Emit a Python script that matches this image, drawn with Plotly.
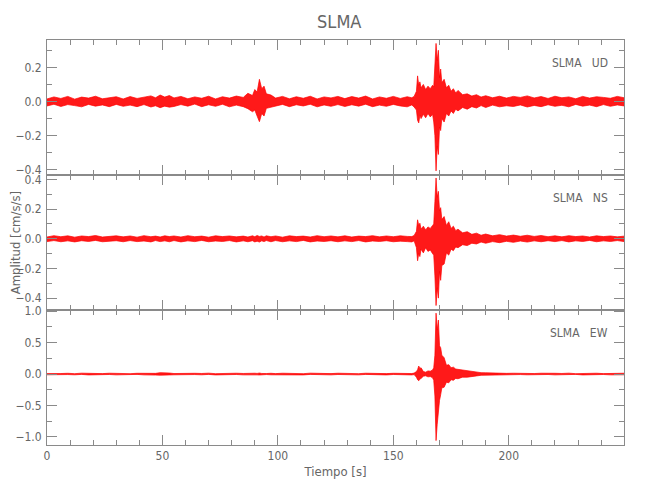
import plotly.graph_objects as go
from plotly.subplots import make_subplots

# Time grid (s)
T = [0, 3, 6, 9, 12, 15, 18, 21, 24, 27,
     30, 33, 36, 39, 42, 45, 47, 49, 51, 53,
     55, 58, 61, 64, 67, 70, 73, 76, 79, 82,
     85, 87, 89, 90, 91, 92, 93, 94, 95, 97,
     99, 102, 105, 108, 111, 114, 117, 120, 123, 126,
     129, 132, 135, 138, 141, 144, 147, 150, 153, 156,
     158, 159, 160, 160.5, 161, 161.5, 162, 163, 164, 165,
     166, 167, 167.5, 168, 168.5, 169, 169.5, 170, 170.5, 171,
     172, 173, 174, 175, 176, 177, 178, 180, 182, 184,
     186, 188, 190, 193, 196, 199, 202, 205, 208, 211,
     214, 217, 220, 223, 226, 229, 232, 235, 238, 241,
     244, 247, 250]

# Envelope (upper / lower) of each component, cm/s/s
UD_UP = [.015, .027, .018, .030, .014, .026, .020, .031, .016, .024,
         .028, .015, .029, .018, .025, .033, .022, .038, .026, .035,
         .021, .030, .016, .027, .019, .031, .015, .028, .020, .032,
         .024, .048, .035, .070, .055, .130, .075, .090, .045, .038,
         .020, .030, .016, .028, .019, .031, .015, .027, .021, .030,
         .017, .029, .020, .032, .015, .027, .019, .030, .018, .028,
         .022, .030, .060, .150, .095, .115, .080, .100, .070, .090,
         .075, .095, .085, .200, .340, .240, .300, .140, .190, .110,
         .130, .080, .095, .060, .075, .050, .065, .040, .045, .032,
         .040, .026, .034, .022, .031, .020, .030, .024, .033, .021,
         .029, .018, .031, .022, .027, .016, .030, .020, .028, .024,
         .019, .030, .022]
UD_LO = [-.026, -.016, -.029, -.018, -.024, -.031, -.017, -.027, -.020, -.030,
         -.017, -.028, -.021, -.030, -.018, -.032, -.025, -.036, -.027, -.033,
         -.029, -.018, -.027, -.015, -.030, -.019, -.028, -.016, -.031, -.021,
         -.030, -.042, -.060, -.050, -.085, -.118, -.070, -.085, -.040, -.033,
         -.027, -.017, -.030, -.019, -.026, -.016, -.031, -.020, -.028, -.018,
         -.029, -.019, -.027, -.016, -.030, -.021, -.028, -.017, -.026, -.031,
         -.020, -.032, -.050, -.110, -.125, -.080, -.100, -.075, -.095, -.070,
         -.090, -.075, -.120, -.200, -.406, -.260, -.310, -.150, -.170, -.100,
         -.120, -.070, -.085, -.055, -.070, -.045, -.055, -.035, -.045, -.030,
         -.038, -.024, -.035, -.021, -.031, -.025, -.029, -.020, -.032, -.023,
         -.030, -.019, -.028, -.022, -.031, -.017, -.027, -.021, -.030, -.018,
         -.028, -.020, -.026]

NS_UP = [.012, .021, .014, .020, .011, .019, .015, .022, .012, .018,
         .020, .013, .019, .011, .021, .014, .018, .012, .020, .015,
         .019, .012, .021, .014, .018, .011, .020, .015, .019, .013,
         .018, .012, .020, .014, .022, .016, .019, .012, .020, .014,
         .019, .011, .020, .015, .018, .012, .021, .014, .019, .013,
         .020, .012, .018, .015, .021, .013, .019, .014, .020, .016,
         .015, .022, .050, .128, .090, .105, .065, .085, .060, .080,
         .070, .090, .100, .250, .410, .280, .320, .190, .210, .130,
         .150, .090, .115, .070, .085, .055, .065, .040, .048, .030,
         .038, .024, .032, .020, .028, .018, .025, .017, .024, .016,
         .022, .014, .020, .013, .021, .015, .019, .012, .020, .015,
         .019, .013, .018]
NS_LO = [-.019, -.012, -.020, -.014, -.021, -.013, -.018, -.011, -.020, -.015,
         -.013, -.020, -.012, -.019, -.015, -.021, -.012, -.019, -.014, -.020,
         -.012, -.021, -.014, -.019, -.011, -.020, -.015, -.018, -.012, -.021,
         -.014, -.020, -.013, -.021, -.016, -.022, -.014, -.019, -.012, -.020,
         -.012, -.020, -.014, -.019, -.011, -.021, -.015, -.018, -.013, -.020,
         -.014, -.019, -.012, -.021, -.015, -.018, -.013, -.020, -.016, -.019,
         -.021, -.014, -.060, -.148, -.100, -.120, -.070, -.095, -.060, -.085,
         -.075, -.100, -.110, -.250, -.450, -.330, -.400, -.220, -.280, -.180,
         -.170, -.095, -.110, -.070, -.080, -.055, -.060, -.040, -.046, -.030,
         -.035, -.022, -.030, -.019, -.026, -.017, -.024, -.015, -.022, -.014,
         -.020, -.013, -.019, -.012, -.021, -.014, -.018, -.011, -.020, -.014,
         -.018, -.012, -.019]

EW_UP = [.007, .013, .008, .012, .006, .014, .009, .012, .007, .013,
         .008, .013, .006, .012, .009, .014, .011, .022, .013, .016,
         .008, .013, .007, .012, .009, .014, .006, .012, .008, .013,
         .009, .014, .008, .013, .010, .016, .009, .014, .008, .012,
         .007, .013, .009, .012, .006, .014, .008, .012, .007, .013,
         .009, .012, .006, .013, .008, .014, .007, .012, .009, .013,
         .008, .015, .040, .070, .127, .090, .100, .040, .030, .050,
         .045, .065, .100, .300, .970, .700, .860, .450, .420, .300,
         .260, .140, .150, .100, .110, .080, .075, .055, .052, .040,
         .032, .022, .020, .014, .016, .011, .013, .009, .012, .008,
         .013, .007, .012, .009, .014, .006, .012, .008, .013, .007,
         .012, .009, .013]
EW_LO = [-.012, -.007, -.013, -.008, -.012, -.006, -.014, -.008, -.012, -.007,
         -.013, -.008, -.012, -.006, -.013, -.009, -.016, -.018, -.012, -.014,
         -.012, -.007, -.013, -.008, -.012, -.006, -.014, -.009, -.012, -.007,
         -.013, -.009, -.014, -.010, -.013, -.015, -.010, -.013, -.008, -.012,
         -.013, -.007, -.012, -.008, -.014, -.006, -.012, -.009, -.013, -.007,
         -.012, -.008, -.013, -.006, -.012, -.009, -.014, -.007, -.013, -.008,
         -.014, -.009, -.050, -.090, -.107, -.080, -.070, -.035, -.028, -.045,
         -.040, -.060, -.100, -.350, -1.06, -.800, -.600, -.420, -.330, -.220,
         -.210, -.130, -.140, -.090, -.100, -.070, -.075, -.050, -.050, -.035,
         -.030, -.020, -.018, -.012, -.015, -.010, -.013, -.008, -.012, -.009,
         -.012, -.007, -.013, -.008, -.012, -.006, -.014, -.008, -.012, -.007,
         -.013, -.008, -.012]

CHANNELS = ["UD", "NS", "EW"]
STATION = "SLMA"
Y_RANGES = [[-0.43, 0.36], [-0.48, 0.43], [-1.13, 1.02]]
Y_DTICK = [0.2, 0.2, 0.5]
X_RANGE = [0, 249.9]

series = [(UD_UP, UD_LO), (NS_UP, NS_LO), (EW_UP, EW_LO)]
for up, lo in series:
    assert len(up) == len(T) and len(lo) == len(T)

FONT = "DejaVu Sans Condensed, Liberation Sans Narrow, sans-serif"
GRAY = "#666666"
AXC = "#8a8a8a"
RED = "#ff0000"

fig = make_subplots(rows=3, cols=1, shared_xaxes=True, vertical_spacing=0)

for i, (up, lo) in enumerate(series):
    r = i + 1
    fig.add_trace(go.Scatter(x=T, y=lo, mode="lines",
                             line=dict(color=RED, width=0.7),
                             hoverinfo="skip", showlegend=False), row=r, col=1)
    fig.add_trace(go.Scatter(x=T, y=up, mode="lines", fill="tonexty",
                             fillcolor="rgba(255,0,0,0.9)",
                             line=dict(color=RED, width=0.7),
                             hoverinfo="skip", showlegend=False), row=r, col=1)

domains = [[2 / 3, 1.0], [1 / 3, 2 / 3], [0.0, 1 / 3]]
for i in range(3):
    r = i + 1
    fig.update_yaxes(row=r, col=1, range=Y_RANGES[i], domain=domains[i],
                     dtick=Y_DTICK[i], tick0=0, tickformat=".1f",
                     ticks="inside", ticklen=10, tickcolor=AXC, tickwidth=1,
                     minor=dict(ticks="inside", ticklen=5, dtick=Y_DTICK[i] / 2,
                                tickcolor=AXC, tickwidth=1),
                     showline=True, linecolor=AXC, linewidth=1, mirror="ticks",
                     showgrid=False, zeroline=False, automargin=False,
                     tickfont=dict(family=FONT, size=12, color=GRAY),
                     ticklabelstandoff=2)
    fig.update_xaxes(row=r, col=1, range=X_RANGE, dtick=50, tick0=0,
                     ticks="inside", ticklen=10, tickcolor=AXC, tickwidth=1,
                     minor=dict(ticks="inside", ticklen=5, dtick=10,
                                tickcolor=AXC, tickwidth=1),
                     showline=True, linecolor=AXC, linewidth=1, mirror="ticks",
                     showgrid=False, zeroline=False, automargin=False,
                     showticklabels=(r == 3),
                     tickfont=dict(family=FONT, size=12, color=GRAY))
    yref = "y domain" if r == 1 else f"y{r} domain"
    fig.add_annotation(text=f"{STATION}&nbsp;&nbsp;&nbsp;{CHANNELS[i]}",
                       xref="x domain", yref=yref, x=0.975, y=0.83,
                       xanchor="right", yanchor="middle", showarrow=False,
                       font=dict(family=FONT, size=12, color=GRAY))

fig.update_xaxes(row=3, col=1,
                 title=dict(text="Tiempo [s]", standoff=4,
                            font=dict(family=FONT, size=13, color=GRAY)))

fig.add_annotation(text="Amplitud [cm/s/s]", xref="paper", yref="paper",
                   x=-0.054, y=0.5, textangle=-90, showarrow=False,
                   xanchor="center", yanchor="middle",
                   font=dict(family=FONT, size=13, color=GRAY))

# the page body adds an 8px margin, so the figure is sized to fit the window
fig.update_layout(
    width=642, height=492,
    margin=dict(l=39, r=26, t=32, b=55, autoexpand=False),
    paper_bgcolor="white", plot_bgcolor="white",
    title=dict(text=STATION, x=0.516, xanchor="center", y=0.972, yanchor="middle",
               font=dict(family=FONT, size=18, color=GRAY)),
    showlegend=False,
)

fig.write_html("out.html")
